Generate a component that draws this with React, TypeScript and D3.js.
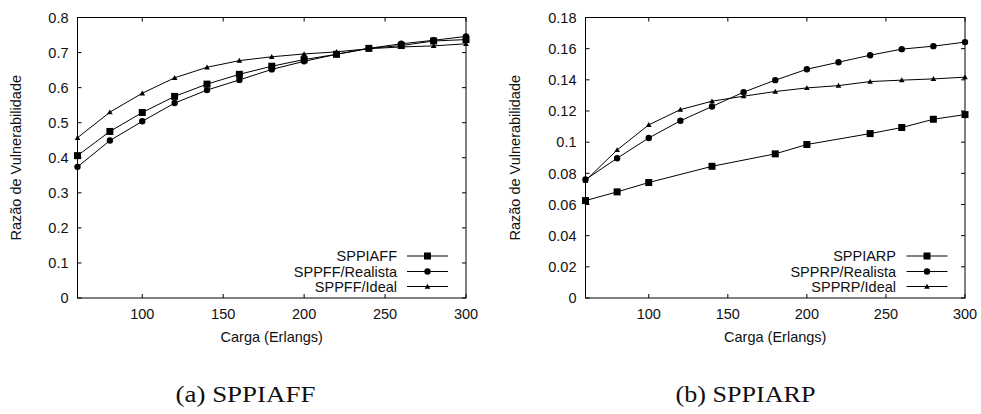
import React from "react";
import * as d3 from "d3";

const loadsA = [60, 80, 100, 120, 140, 160, 180, 200, 220, 240, 260, 280, 300];
const sppiaff = [0.406, 0.475, 0.529, 0.575, 0.61, 0.638, 0.661, 0.68, 0.695, 0.712, 0.72, 0.733, 0.737];
const sppffRealista = [0.374, 0.449, 0.504, 0.556, 0.593, 0.622, 0.652, 0.675, 0.695, 0.712, 0.725, 0.735, 0.746];
const sppffIdeal = [0.457, 0.53, 0.584, 0.628, 0.658, 0.677, 0.688, 0.696, 0.702, 0.711, 0.716, 0.719, 0.725];

const loadsSppiarp = [60, 80, 100, 140, 180, 200, 240, 260, 280, 300];
const sppiarp = [0.0625, 0.0681, 0.0741, 0.0845, 0.0925, 0.0985, 0.1055, 0.1094, 0.1147, 0.1177];
const loadsB = [60, 80, 100, 120, 140, 160, 180, 200, 220, 240, 260, 280, 300];
const spprpRealista = [0.076, 0.0897, 0.1027, 0.1137, 0.1229, 0.1321, 0.1398, 0.1468, 0.1513, 0.1558, 0.1597, 0.1616, 0.1642];
const spprpIdeal = [0.0753, 0.095, 0.1111, 0.1209, 0.1263, 0.1295, 0.1325, 0.1348, 0.1363, 0.1389, 0.1398, 0.1406, 0.1417];

const xTicks = [100, 150, 200, 250, 300];
const yTicksA = [0, 0.1, 0.2, 0.3, 0.4, 0.5, 0.6, 0.7, 0.8];
const yTickLabelsA = ["0", "0.1", "0.2", "0.3", "0.4", "0.5", "0.6", "0.7", "0.8"];
const yTicksB = [0, 0.02, 0.04, 0.06, 0.08, 0.1, 0.12, 0.14, 0.16, 0.18];
const yTickLabelsB = ["0", "0.02", "0.04", "0.06", "0.08", "0.1", "0.12", "0.14", "0.16", "0.18"];

const SANS = "'Liberation Sans', Arial, sans-serif";
const SERIF = "'Liberation Serif', 'Times New Roman', serif";

type Series = { name: string; xs: number[]; ys: number[]; marker: "square" | "circle" | "triangle" };

function Marker({ kind, x, y }: { kind: string; x: number; y: number }) {
  if (kind === "square") return <rect x={x - 3.5} y={y - 3.5} width={7} height={7} fill="#000" />;
  if (kind === "circle") return <circle cx={x} cy={y} r={3.2} fill="#000" />;
  const s = d3.symbol().type(d3.symbolTriangle).size(14)();
  return <path d={s || ""} transform={`translate(${x},${y + 0.5})`} fill="#000" />;
}

function Panel(props: {
  left: number;
  right: number;
  yMax: number;
  yTicks: number[];
  yLabels: string[];
  series: Series[];
  yTitleX: number;
  legendTextX: number;
  legendLineX0: number;
  legendLineX1: number;
  caption: string;
  captionX: number;
}) {
  const top = 17.5;
  const bottom = 298;
  const x = d3.scaleLinear().domain([60, 300]).range([props.left, props.right]);
  const y = d3.scaleLinear().domain([0, props.yMax]).range([bottom, top]);
  const line = d3
    .line<[number, number]>()
    .x((d) => x(d[0]))
    .y((d) => y(d[1]));
  const fs = 14.5;
  const legendYs = [256, 271.5, 286.5];
  return (
    <g>
      {props.yTicks.map((t, i) => (
        <g key={"yt" + i}>
          <line x1={props.left} x2={props.left + 4} y1={y(t)} y2={y(t)} stroke="#000" />
          <line x1={props.right} x2={props.right - 4} y1={y(t)} y2={y(t)} stroke="#000" />
          <text
            x={props.left - 9}
            y={y(t)}
            dy="0.36em"
            textAnchor="end"
            fontFamily={SANS}
            fontSize={fs}
            fill="#111"
          >
            {props.yLabels[i]}
          </text>
        </g>
      ))}
      {xTicks.map((t) => (
        <g key={"xt" + t}>
          <line x1={x(t)} x2={x(t)} y1={bottom} y2={bottom - 4} stroke="#000" />
          <line x1={x(t)} x2={x(t)} y1={top} y2={top + 4} stroke="#000" />
          <text x={x(t)} y={318.5} textAnchor="middle" fontFamily={SANS} fontSize={fs} fill="#111">
            {t}
          </text>
        </g>
      ))}
      <rect
        x={props.left}
        y={top}
        width={props.right - props.left}
        height={bottom - top}
        fill="none"
        stroke="#000"
        strokeWidth={1}
      />
      {props.series.map((s, si) => {
        const pts: [number, number][] = s.xs.map((v, i) => [v, s.ys[i]]);
        return (
          <g key={"s" + si}>
            <path d={line(pts) || ""} fill="none" stroke="#000" strokeWidth={1} />
            {pts.map((p, i) => (
              <Marker key={i} kind={s.marker} x={x(p[0])} y={y(p[1])} />
            ))}
          </g>
        );
      })}
      {props.series.map((s, si) => (
        <g key={"l" + si}>
          <text
            x={props.legendTextX}
            y={legendYs[si]}
            dy="0.36em"
            textAnchor="end"
            fontFamily={SANS}
            fontSize={fs}
            fill="#111"
          >
            {s.name}
          </text>
          <line
            x1={props.legendLineX0}
            x2={props.legendLineX1}
            y1={legendYs[si]}
            y2={legendYs[si]}
            stroke="#000"
          />
          <Marker kind={s.marker} x={(props.legendLineX0 + props.legendLineX1) / 2} y={legendYs[si]} />
        </g>
      ))}
      <text
        x={(props.left + props.right) / 2}
        y={342}
        textAnchor="middle"
        fontFamily={SANS}
        fontSize={fs}
        fill="#111"
      >
        Carga (Erlangs)
      </text>
      <text
        transform={`translate(${props.yTitleX},${(top + bottom) / 2}) rotate(-90)`}
        textAnchor="middle"
        dy="0.36em"
        fontFamily={SANS}
        fontSize={fs}
        fill="#111"
      >
        Razão de Vulnerabilidade
      </text>
      <text
        x={props.captionX}
        y={402}
        textAnchor="middle"
        fontFamily={SERIF}
        fontSize={23}
        fill="#111"
        textLength={140}
        lengthAdjust="spacingAndGlyphs"
      >
        {props.caption}
      </text>
    </g>
  );
}

export default function App() {
  const seriesA: Series[] = [
    { name: "SPPIAFF", xs: loadsA, ys: sppiaff, marker: "square" },
    { name: "SPPFF/Realista", xs: loadsA, ys: sppffRealista, marker: "circle" },
    { name: "SPPFF/Ideal", xs: loadsA, ys: sppffIdeal, marker: "triangle" },
  ];
  const seriesB: Series[] = [
    { name: "SPPIARP", xs: loadsSppiarp, ys: sppiarp, marker: "square" },
    { name: "SPPRP/Realista", xs: loadsB, ys: spprpRealista, marker: "circle" },
    { name: "SPPRP/Ideal", xs: loadsB, ys: spprpIdeal, marker: "triangle" },
  ];
  return (
    <svg
      width={981}
      height={414}
      style={{ position: "absolute", left: 0, top: 0, background: "#fff" }}
    >
      <rect width={981} height={414} fill="#fff" />
      <Panel
        left={77.5}
        right={466}
        yMax={0.8}
        yTicks={yTicksA}
        yLabels={yTickLabelsA}
        series={seriesA}
        yTitleX={16}
        legendTextX={397}
        legendLineX0={407}
        legendLineX1={448}
        caption="(a) SPPIAFF"
        captionX={245.5}
      />
      <Panel
        left={585.5}
        right={965}
        yMax={0.18}
        yTicks={yTicksB}
        yLabels={yTickLabelsB}
        series={seriesB}
        yTitleX={515}
        legendTextX={896}
        legendLineX0={906.5}
        legendLineX1={947.5}
        caption="(b) SPPIARP"
        captionX={745.5}
      />
    </svg>
  );
}
